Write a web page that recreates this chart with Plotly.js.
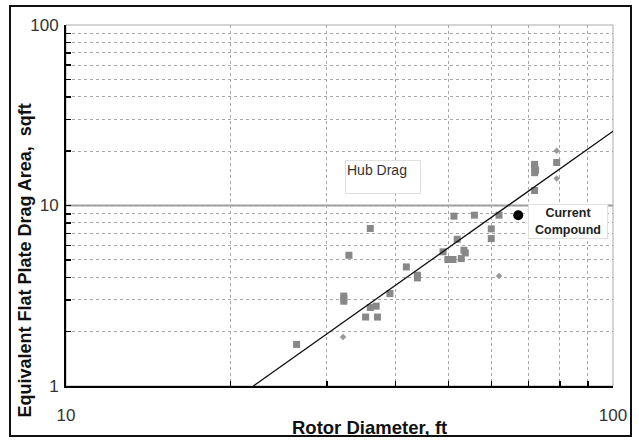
<!DOCTYPE html>
<html><head><meta charset="utf-8">
<script src="https://cdn.plot.ly/plotly-3.0.1.min.js"></script>
<style>html,body{margin:0;padding:0;background:#fff}#wrap{position:relative;width:639px;height:442px}#chart{width:639px;height:442px}#frame{position:absolute;left:9px;top:5px;width:623px;height:432px;border:2px solid #111;box-sizing:border-box;pointer-events:none}</style>
</head><body><div id="wrap"><div id="chart"></div><div id="frame"></div></div>
<script>
// Square markers (rotor diameter ft, flat plate drag area sqft)
const sqX = [26.4,32.2,32.2,32.2,32.9,36.0,35.3,36.0,36.9,37.1,39.1,41.9,43.9,43.9,48.9,49.9,51.0,51.2,51.9,52.8,53.4,53.7,55.8,59.9,59.9,61.9,71.9,71.9,72.2,71.9,71.9,78.9];
const sqY = [1.70,3.15,3.05,2.95,5.30,7.46,2.41,2.72,2.77,2.41,3.25,4.57,4.11,3.97,5.54,5.02,5.02,8.73,6.50,5.08,5.65,5.46,8.84,7.42,6.56,8.84,16.9,16.4,15.7,15.2,12.1,17.3];
// Small diamond markers
const dmX = [32.1,61.9,78.9,78.9];
const dmY = [1.87,4.07,20.1,14.1];
// Current compound
const ccX = [67.1];
const ccY = [8.84];
// Trend line
const lineX = [22.0,100];
const lineY = [1.0,25.8];
// Ticks
const xTickVals = [10,20,30,40,50,60,70,80,90,100];
const xTickText = ['10','','','','','','','','','100'];
const yTickVals = [1,2,3,4,5,6,7,8,9,10,20,30,40,50,60,70,80,90,100];
const yTickText = ['1','','','','','','','','','10','','','','','','','','','100'];

const traces = [
  {x: sqX, y: sqY, type:'scatter', mode:'markers', marker:{symbol:'square', size:7, color:'#888888'}},
  {x: dmX, y: dmY, type:'scatter', mode:'markers', marker:{symbol:'diamond', size:5, color:'#999999'}},
  {x: lineX, y: lineY, type:'scatter', mode:'lines', line:{color:'#111', width:1.3}},
  {x: ccX, y: ccY, type:'scatter', mode:'markers', marker:{symbol:'circle', size:10, color:'#000'}}
];

const layout = {
  width:639, height:442,
  margin:{l:66, r:26, t:25, b:56},
  paper_bgcolor:'#fff', plot_bgcolor:'#fff',
  showlegend:false,
  font:{family:'Arial, Liberation Sans, sans-serif', color:'#222'},
  xaxis:{type:'log', range:[1,2], tickvals:xTickVals, ticktext:xTickText,
    showgrid:true, gridcolor:'#a8a8a8', griddash:'dot', gridwidth:1,
    showline:true, linecolor:'#000', linewidth:2,
    ticks:'inside', ticklen:5, tickcolor:'#000', tickwidth:1.5,
    ticklabelstandoff:13, tickfont:{size:17, color:'#333'}, zeroline:false},
  yaxis:{type:'log', range:[0,2], tickvals:yTickVals, ticktext:yTickText,
    showgrid:true, gridcolor:'#a8a8a8', griddash:'dot', gridwidth:1,
    showline:true, linecolor:'#000', linewidth:2,
    ticks:'inside', ticklen:5, tickcolor:'#000', tickwidth:1.5,
    ticklabelstandoff:2, tickfont:{size:17, color:'#333'}, zeroline:false},
  shapes:[
    {type:'rect', xref:'paper', yref:'paper', x0:0, x1:1, y0:0, y1:1, line:{color:'#aaa', width:1}, layer:'below'},
    {type:'line', xref:'paper', yref:'y', x0:0, x1:1, y0:10, y1:10, line:{color:'#999', width:2}, layer:'below'}
  ],
  annotations:[
    {xref:'paper', yref:'paper', x:0.51, y:0.626, xanchor:'left', yanchor:'top', text:'Hub Drag', showarrow:false,
     font:{size:14, color:'#333'}, bgcolor:'#fff', bordercolor:'#e0e0e0', borderwidth:1, width:72, height:30, align:'left', valign:'top'},
    {xref:'paper', yref:'paper', x:0.845, y:0.504, xanchor:'left', yanchor:'top', text:'<b>Current<br>Compound</b>', showarrow:false,
     font:{size:12.5, color:'#222'}, bgcolor:'#fff', bordercolor:'#e0e0e0', borderwidth:1, width:76, height:31, align:'center'},
    {xref:'paper', yref:'paper', x:0.554, y:-0.114, xanchor:'center', yanchor:'middle', text:'<b>Rotor Diameter, ft</b>', showarrow:false,
     font:{size:18.5, color:'#111'}},
    {xref:'paper', yref:'paper', x:-0.074, y:0.346, xanchor:'center', yanchor:'middle', textangle:-90, text:'<b>Equivalent Flat Plate Drag Area,  sqft</b>', showarrow:false,
     font:{size:18, color:'#111'}}
  ]
};
Plotly.newPlot('chart', traces, layout, {staticPlot:true});
</script></body></html>
